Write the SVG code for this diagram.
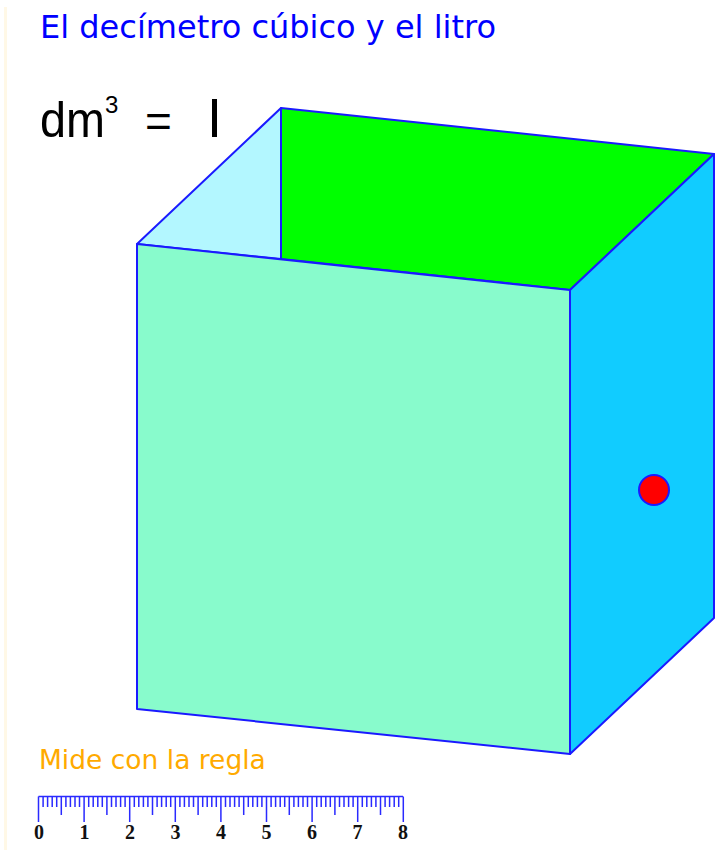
<svg xmlns="http://www.w3.org/2000/svg" width="719" height="850" viewBox="0 0 719 850">
<style>
text{font-family:"DejaVu Sans",sans-serif}
.face{stroke:#1a1aff;stroke-width:2;stroke-linejoin:round}
.n{font-family:"Liberation Serif",serif;font-weight:bold;font-size:20px;fill:#111;text-anchor:middle}
.t{stroke:#2a2aff;stroke-width:1.5;fill:none}
.f{font-family:"Liberation Sans",sans-serif}
</style>
<rect width="719" height="850" fill="#fff"/>
<rect x="4" y="7" width="3" height="843" fill="#fff8e6"/>
<text id="title" x="40" y="38" font-size="32" fill="#0000ff">El decímetro cúbico y el litro</text>
<g id="formula" fill="#000">
<text class="f" x="40" y="137" font-size="50" textLength="65" lengthAdjust="spacingAndGlyphs">dm</text>
<text class="f" x="105" y="113" font-size="24">3</text>
<text class="f" x="145" y="137" font-size="46">=</text>
<rect x="212" y="99" width="5" height="38"/>
</g>
<g id="cube">
<polygon id="left-face" class="face" fill="#b3f7ff" points="137,244 281,108 281,259"/>
<polygon id="back-face" class="face" fill="#00ff00" points="281,108 714,154 570,290 281,259"/>
<polygon id="right-face" class="face" fill="#11ccff" points="714,154 714,618 570,754 570,290"/>
<polygon id="front-face" class="face" fill="#88fbcc" points="137,244 570,290 570,754 137,709"/>
</g>
<circle id="dot" cx="654" cy="490" r="15" fill="#ff0000" stroke="#1a1aff" stroke-width="2"/>
<text id="ruler-label" x="39" y="769" font-size="26.500" fill="#ffaa00">Mide con la regla</text>
<g id="ruler">
<path class="t" d="M38.500 796.500H403M38.500 796.500V822M84.100 796.500V822M129.700 796.500V822M175.300 796.500V822M220.900 796.500V822M266.500 796.500V822M312.100 796.500V822M357.700 796.500V822M403.300 796.500V822M61.300 796.500V815M106.900 796.500V815M152.500 796.500V815M198.100 796.500V815M243.700 796.500V815M289.300 796.500V815M334.900 796.500V815M380.500 796.500V815"/>
<path class="t" d="M43.100 796.500V807M47.600 796.500V807M52.200 796.500V807M56.700 796.500V807M65.900 796.500V807M70.400 796.500V807M75 796.500V807M79.500 796.500V807M88.700 796.500V807M93.200 796.500V807M97.800 796.500V807M102.300 796.500V807M111.500 796.500V807M116 796.500V807M120.600 796.500V807M125.100 796.500V807M134.300 796.500V807M138.800 796.500V807M143.400 796.500V807M147.900 796.500V807M157.100 796.500V807M161.600 796.500V807M166.200 796.500V807M170.700 796.500V807M179.900 796.500V807M184.400 796.500V807M189 796.500V807M193.500 796.500V807M202.700 796.500V807M207.200 796.500V807M211.800 796.500V807M216.300 796.500V807M225.500 796.500V807M230 796.500V807M234.600 796.500V807M239.100 796.500V807M248.300 796.500V807M252.800 796.500V807M257.400 796.500V807M261.900 796.500V807M271.100 796.500V807M275.600 796.500V807M280.200 796.500V807M284.700 796.500V807M293.900 796.500V807M298.400 796.500V807M303 796.500V807M307.500 796.500V807M316.700 796.500V807M321.200 796.500V807M325.800 796.500V807M330.300 796.500V807M339.500 796.500V807M344 796.500V807M348.600 796.500V807M353.100 796.500V807M362.300 796.500V807M366.800 796.500V807M371.400 796.500V807M375.900 796.500V807M385.100 796.500V807M389.600 796.500V807M394.200 796.500V807M398.700 796.500V807"/>
<text class="n" x="39" y="839">0</text><text class="n" x="84.500" y="839">1</text><text class="n" x="130" y="839">2</text><text class="n" x="175.500" y="839">3</text><text class="n" x="221" y="839">4</text><text class="n" x="266.500" y="839">5</text><text class="n" x="312" y="839">6</text><text class="n" x="357.500" y="839">7</text><text class="n" x="403" y="839">8</text>
</g>
</svg>
